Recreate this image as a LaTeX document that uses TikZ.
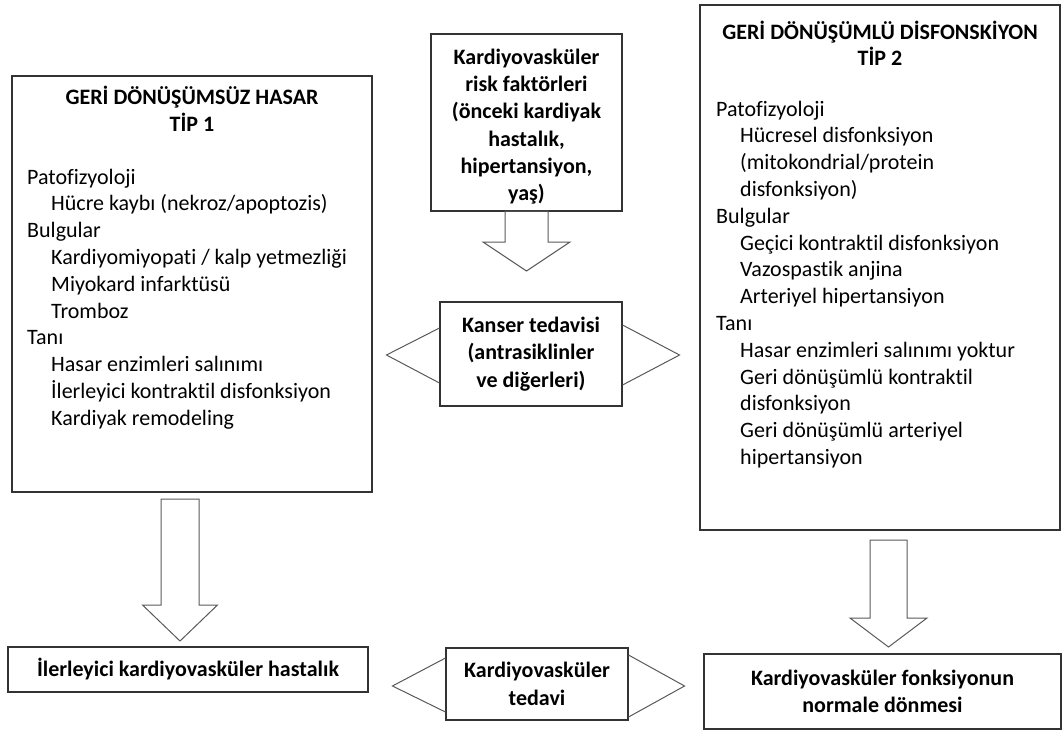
\documentclass[tikz,border=0pt]{standalone}
\usepackage{fontspec}
\setmainfont{Carlito}[Ligatures=NoCommon]
\usetikzlibrary{calc}
\newcommand\DownArrow[6]{\draw[blockarrow] (#1-#5,#2) -- (#1-#5,#3) -- (#1-#6,#3) -- (#1,#4) -- (#1+#6,#3) -- (#1+#5,#3) -- (#1+#5,#2) -- cycle;}
\begin{document}
\begin{tikzpicture}[x=1pt,y=-1pt,
  box/.style={draw=black!80,line width=1.1pt,inner sep=0pt,align=center,
    font=\fontsize{22}{27.3}\selectfont\bfseries},
  boxtext/.style={inner sep=0pt,align=center,font=\fontsize{22}{27.3}\selectfont\bfseries},
  bigbox/.style={draw=black!80,line width=1.1pt,inner sep=0pt},
  blockarrow/.style={draw=black!65,line width=1pt,line join=miter},
  bodytext/.style={anchor=base west,inner sep=0pt,font=\fontsize{22}{27}\selectfont},
  titletext/.style={anchor=base,inner sep=0pt,font=\fontsize{22}{27}\selectfont\bfseries}]
\useasboundingbox (0,0) rectangle (1063,731);

% big boxes
\node[bigbox,minimum width=360pt,minimum height=416pt] (type1) at (192,284) {};
\node[bigbox,minimum width=360pt,minimum height=525pt] (type2) at (880,267.5) {};

\node[titletext] (t1a) at (192,104) {GERİ DÖNÜŞÜMSÜZ HASAR};
\node[titletext] (t1b) at (192,131) {TİP 1};
\node[titletext] (t2a) at (880,39) {GERİ DÖNÜŞÜMLÜ DİSFONSKİYON};
\node[titletext] (t2b) at (880,65) {TİP 2};

\foreach \ind/\t [count=\i] in {0/Patofizyoloji,1/{Hücre kaybı (nekroz/apoptozis)},0/Bulgular,1/{Kardiyomiyopati / kalp yetmezliği},1/{Miyokard infarktüsü},1/Tromboz,0/Tanı,1/{Hasar enzimleri salınımı},1/{İlerleyici kontraktil disfonksiyon},1/{Kardiyak remodeling}}
  \node[bodytext] (L\i) at (27+24*\ind,184+26.8*\i-26.8) {\t};

\foreach \ind/\t [count=\i] in {0/Patofizyoloji,1/{Hücresel disfonksiyon},1/{(mitokondrial/protein},1/{disfonksiyon)},0/Bulgular,1/{Geçici kontraktil disfonksiyon},1/{Vazospastik anjina},1/{Arteriyel hipertansiyon},0/Tanı,1/{Hasar enzimleri salınımı yoktur},1/{Geri dönüşümlü kontraktil},1/disfonksiyon,1/{Geri dönüşümlü arteriyel},1/hipertansiyon}
  \node[bodytext] (R\i) at (716+24*\ind,116+26.8*\i-26.8) {\t};

% centre boxes
\node[bigbox,minimum width=191pt,minimum height=177pt] (risk) at (526.5,122.5) {};
\node[boxtext] (risktxt) at ($(risk.center)+(0,4)$)
  {Kardiyovasküler\\risk faktörleri\\(önceki kardiyak\\hastalık,\\hipertansiyon,\\yaş)};
\node[box,minimum width=182pt,minimum height=104pt] (kanser) at (531,354)
  {Kanser tedavisi\\(antrasiklinler\\ve diğerleri)};

% bottom boxes
\node[box,minimum width=360pt,minimum height=45pt] (prog) at (188,669.5)
  {İlerleyici kardiyovasküler hastalık};
\node[box,minimum width=182pt,minimum height=72pt] (tedavi) at (537,684)
  {Kardiyovasküler\\tedavi};
\node[box,minimum width=357pt,minimum height=75pt] (normal) at (882.5,691.5)
  {Kardiyovasküler fonksiyonun\\normale dönmesi};

% double-headed arrows behind centre boxes
\draw[blockarrow] ($(kanser.west)+(0,-26)$) -- ($(kanser.west)+(-53,1)$) -- ($(kanser.west)+(0,29)$);
\draw[blockarrow] ($(kanser.east)+(0,-29)$) -- ($(kanser.east)+(57,1)$) -- ($(kanser.east)+(0,31)$);
\draw[blockarrow] ($(tedavi.west)+(0,-26)$) -- ($(tedavi.west)+(-53,2)$) -- ($(tedavi.west)+(0,28)$);
\draw[blockarrow] ($(tedavi.east)+(0,-29)$) -- ($(tedavi.east)+(56,2)$) -- ($(tedavi.east)+(0,33)$);

% down block arrows
\DownArrow{526.5}{211}{242}{271}{21.5}{43.5}
\DownArrow{180}{499}{605}{641}{19}{37.5}
\DownArrow{888.5}{540}{618}{647}{18.5}{38.5}
\end{tikzpicture}
\end{document}
